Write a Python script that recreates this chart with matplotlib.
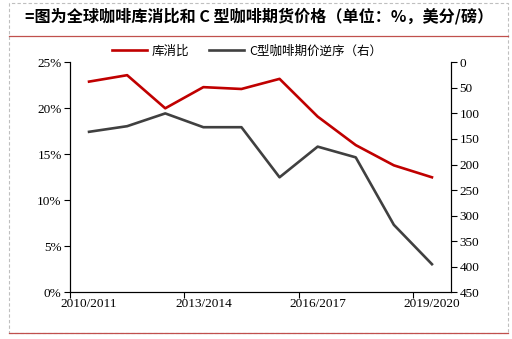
import numpy as np
import matplotlib.pyplot as plt
from matplotlib.lines import Line2D
from matplotlib.patches import Rectangle

plt.rcParams['font.family'] = ['Noto Sans CJK SC', 'DejaVu Sans']

# data
seasons = ['2010/2011', '2011/2012', '2012/2013', '2013/2014', '2014/2015',
           '2015/2016', '2016/2017', '2017/2018', '2018/2019', '2019/2020']
stock_ratio = [22.9, 23.6, 20.0, 22.3, 22.1, 23.2, 19.1, 16.0, 13.8, 12.5]
c_price_inv = [136, 125, 100, 127, 127, 225, 165, 186, 318, 395]

red = '#C00000'
grey = '#404040'
serif = 'Liberation Serif'

fig = plt.figure(figsize=(5.12, 3.39), dpi=100)

# frame of the picture
fig.patches.append(Rectangle((9 / 512, 1 - 333 / 339), 499 / 512, 330 / 339,
                             transform=fig.transFigure, fill=False,
                             ec='#BFBFBF', lw=0.8, ls=(0, (3, 2))))
fig.lines.append(Line2D([9 / 512, 508 / 512], [1 - 36 / 339, 1 - 36 / 339],
                        transform=fig.transFigure, color='#C0504D', lw=0.9))
fig.lines.append(Line2D([9 / 512, 508 / 512], [1 - 333 / 339, 1 - 333 / 339],
                        transform=fig.transFigure, color='#C0504D', lw=0.9))

fig.text(25 / 512, 1 - 16 / 339, '=图为全球咖啡库消比和 C 型咖啡期货价格（单位：%，美分/磅）',
         fontsize=11.6, fontweight='bold', va='center', ha='left')

ax = fig.add_axes([70 / 512, 1 - 292.3 / 339, 381 / 512, 230 / 339])
ax2 = ax.twinx()

x = np.arange(len(seasons))
l1, = ax.plot(x, stock_ratio, color=red, lw=1.9, label='库消比')
l2, = ax2.plot(x, c_price_inv, color=grey, lw=1.9, label='C型咖啡期价逆序（右）')

ax.set_xlim(-0.5, 9.5)
ax.set_ylim(0, 25)
ax.set_yticks(np.arange(0, 26, 5))
ax.set_yticklabels([f'{v}%' for v in range(0, 26, 5)], family=serif, fontsize=9.5)
ax.set_xticks([-0.5, 2.5, 5.5, 8.5])
ax.set_xticklabels([])
ax.set_xticks([0, 3, 6, 9], minor=True)
ax.set_xticklabels([seasons[i] for i in [0, 3, 6, 9]], minor=True,
                   family=serif, fontsize=9.5)
ax.tick_params(axis='x', which='minor', length=0, pad=4)
ax.tick_params(axis='x', which='major', length=4, direction='out')
ax.tick_params(axis='y', length=4, direction='out', pad=2)

ax2.set_ylim(450, 0)
ax2.set_yticks(np.arange(0, 451, 50))
ax2.set_yticklabels([str(v) for v in range(0, 451, 50)], family=serif, fontsize=9.5)
ax2.tick_params(axis='y', length=4, direction='out', pad=2)

for a in (ax, ax2):
    a.spines['top'].set_visible(False)

fig.legend(handles=[l1, l2], loc='center', bbox_to_anchor=(247 / 512, 1 - 51 / 339),
           ncol=2, frameon=False, fontsize=9, handlelength=2.8,
           columnspacing=1.6, handletextpad=0.4)

fig.savefig('out.png', dpi=100)
